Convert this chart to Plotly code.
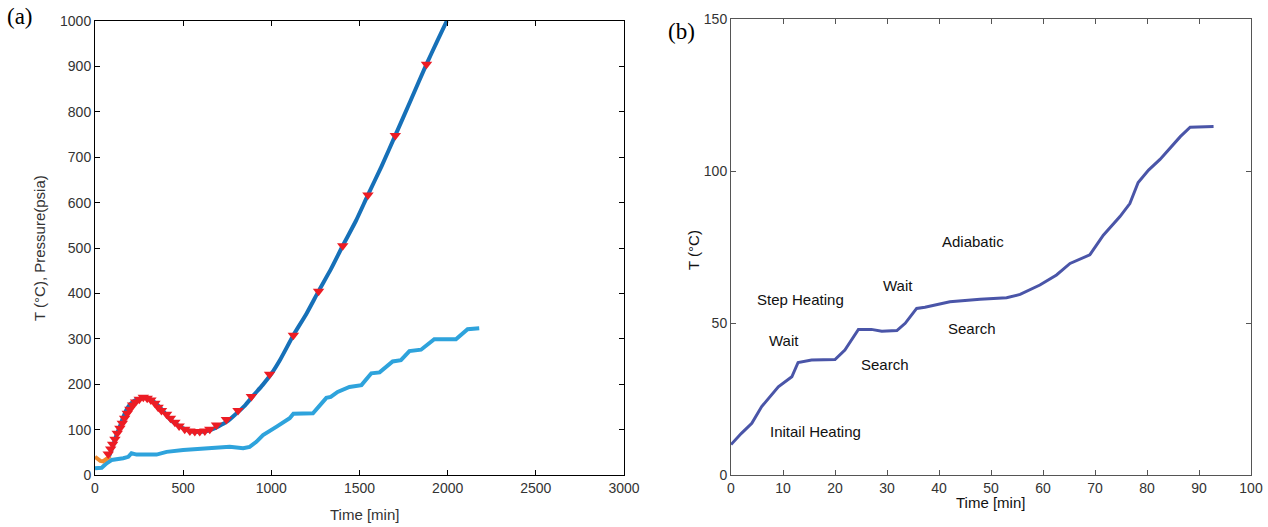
import plotly.graph_objects as go

# ---------------- Panel (a) data ----------------
orange_t = [0, 15, 30, 45, 60, 75, 85]
orange_T = [40, 36, 31, 30, 33, 38, 42]

temp_t = [80, 100, 120, 140, 160, 180, 200, 230, 260, 290, 320, 350, 380, 420, 460, 500,
          540, 580, 620, 660, 700, 750, 800, 850, 900, 950, 1000, 1050, 1125, 1200, 1268,
          1340, 1405, 1480, 1548, 1625, 1703, 1790, 1880, 1940, 1995]
temp_T = [42, 62, 86, 106, 127, 145, 156, 165, 169, 170, 166, 156, 144, 125, 112, 103,
          97, 95, 96, 100, 107, 118, 135, 153, 176, 198, 223, 254, 308, 356, 405,
          455, 505, 560, 617, 680, 748, 825, 905, 955, 1000]

mark_t = [75, 89, 100, 113, 126, 141, 155, 168, 183, 198, 213, 230, 251, 274, 296, 317,
          340, 358, 377, 406, 428, 453, 477, 509, 538, 566, 594, 623, 651, 689, 745, 811,
          887, 990, 1125, 1268, 1405, 1548, 1703, 1880]
mark_T = [46, 57, 68, 79, 92, 103, 114, 125, 136, 145, 154, 161, 167, 171, 169, 165,
          158, 149, 142, 134, 125, 116, 108, 101, 97, 96, 96, 97, 101, 110, 122, 142,
          173, 222, 308, 405, 505, 617, 748, 905]

press_t = [0, 38, 66, 94, 160, 189, 207, 236, 349, 406, 500, 594, 689, 764, 840, 877,
           915, 953, 1028, 1104, 1125, 1236, 1312, 1337, 1376, 1443, 1511, 1567, 1614,
           1688, 1735, 1783, 1849, 1924, 2047, 2113, 2179]
press_P = [15, 16, 26, 33, 37, 40, 48, 45, 45, 51, 55, 58, 59, 62, 59, 62,
           73, 88, 106, 125, 135, 136, 170, 172, 183, 194, 198, 224, 226,
           250, 253, 273, 276, 299, 299, 321, 323]

# ---------------- Panel (b) data ----------------
b_t = [0, 2.0, 4.0, 5.9, 9.1, 11.7, 12.9, 15.5, 20.0, 21.9, 24.5, 27.0, 29.0, 31.9,
       33.5, 35.7, 37.3, 39.9, 42.1, 47.9, 53.0, 55.6, 59.4, 62.6, 65.2, 69.0, 71.6,
       74.8, 76.7, 78.3, 80.3, 82.5, 86.4, 88.3, 92.8]
b_T = [10, 13.7, 17, 22.5, 29, 32.3, 37, 37.8, 38, 41.1, 47.9, 47.9, 47.3, 47.5,
       49.9, 54.8, 55.2, 56.2, 57.0, 57.8, 58.3, 59.4, 62.5, 65.8, 69.6, 72.4, 78.9,
       85.0, 89.3, 96.2, 100.3, 103.8, 111.3, 114.4, 114.6]

b_labels = ["Step Heating", "Wait", "Initail Heating", "Search", "Wait", "Adiabatic", "Search"]
b_label_x = [13.3, 10.1, 16.2, 29.7, 32.2, 46.6, 46.3]
b_label_y = [57.6, 44.4, 14.2, 36.5, 62.2, 76.7, 48.3]

a_xticks = [0, 500, 1000, 1500, 2000, 2500, 3000]
a_yticks = [0, 100, 200, 300, 400, 500, 600, 700, 800, 900, 1000]
b_xticks = [0, 10, 20, 30, 40, 50, 60, 70, 80, 90, 100]
b_yticks = [0, 50, 100, 150]

FONT = "Liberation Sans, Arial, sans-serif"
SERIF = "Liberation Serif, Times New Roman, serif"
W, H = 1268, 527


def px_x(v):
    return v / W


def px_y(v):
    return 1 - v / H


fig = go.Figure()
fig.add_trace(go.Scatter(x=press_t, y=press_P, mode="lines",
                         line=dict(color="#2ea3dc", width=4), xaxis="x", yaxis="y",
                         showlegend=False))
fig.add_trace(go.Scatter(x=orange_t, y=orange_T, mode="lines",
                         line=dict(color="#f08a2c", width=4), xaxis="x", yaxis="y",
                         showlegend=False))
fig.add_trace(go.Scatter(x=temp_t, y=temp_T, mode="lines",
                         line=dict(color="#1670b8", width=4, shape="spline", smoothing=0.6),
                         xaxis="x", yaxis="y", showlegend=False))
fig.add_trace(go.Scatter(x=mark_t, y=mark_T, mode="markers",
                         marker=dict(symbol="triangle-down", color="#ec1c24", size=10,
                                     line=dict(width=0)),
                         xaxis="x", yaxis="y", showlegend=False))
fig.add_trace(go.Scatter(x=b_t, y=b_T, mode="lines",
                         line=dict(color="#4a55a8", width=3), xaxis="x2", yaxis="y2",
                         showlegend=False))

annotations = []
for txt, xx, yy in zip(b_labels, b_label_x, b_label_y):
    annotations.append(dict(text=txt, x=xx, y=yy, xref="x2", yref="y2", showarrow=False,
                            font=dict(family=FONT, size=15, color="#111")))


def paper_text(txt, px, py, size, family, color, angle=0):
    return dict(text=txt, x=px_x(px), y=px_y(py), xref="paper", yref="paper",
                showarrow=False, textangle=angle, xanchor="center", yanchor="middle",
                font=dict(family=family, size=size, color=color))


annotations += [
    paper_text("(a)", 20, 17, 23, SERIF, "#000"),
    paper_text("(b)", 681, 31, 23, SERIF, "#000"),
    paper_text("Time [min]", 364, 514, 15, FONT, "#333"),
    paper_text("Time [min]", 990, 502, 15, FONT, "#111"),
    paper_text("T (°C), Pressure(psia)", 39, 248, 15, FONT, "#333", -90),
    paper_text("T (°C)", 693, 250, 15, FONT, "#111", -90),
]

axis_common = dict(showgrid=False, zeroline=False, showline=True, mirror="ticks",
                   ticks="inside", ticklen=5, tickwidth=1, automargin=False,
                   tickfont=dict(family=FONT, size=14, color="#333"))

fig.update_layout(
    width=W, height=H,
    margin=dict(l=0, r=0, t=0, b=0),
    paper_bgcolor="white", plot_bgcolor="white",
    hovermode=False,
    annotations=annotations,
    xaxis=dict(domain=[px_x(95), px_x(624)], range=[0, 3000], tickvals=a_xticks,
               linecolor="#000", tickcolor="#000", anchor="y", **axis_common),
    yaxis=dict(domain=[px_y(475), px_y(21)], range=[0, 1000], tickvals=a_yticks,
               linecolor="#000", tickcolor="#000", anchor="x", **axis_common),
    xaxis2=dict(domain=[px_x(731), px_x(1251)], range=[0, 100], tickvals=b_xticks,
                linecolor="#555", tickcolor="#555", anchor="y2", **axis_common),
    yaxis2=dict(domain=[px_y(475), px_y(19)], range=[0, 150], tickvals=b_yticks,
                linecolor="#555", tickcolor="#555", anchor="x2", **axis_common),
)

fig.write_html("out.html",
               config={"displayModeBar": False},
               post_script="document.body.style.margin='0';document.body.style.overflow='hidden';")
